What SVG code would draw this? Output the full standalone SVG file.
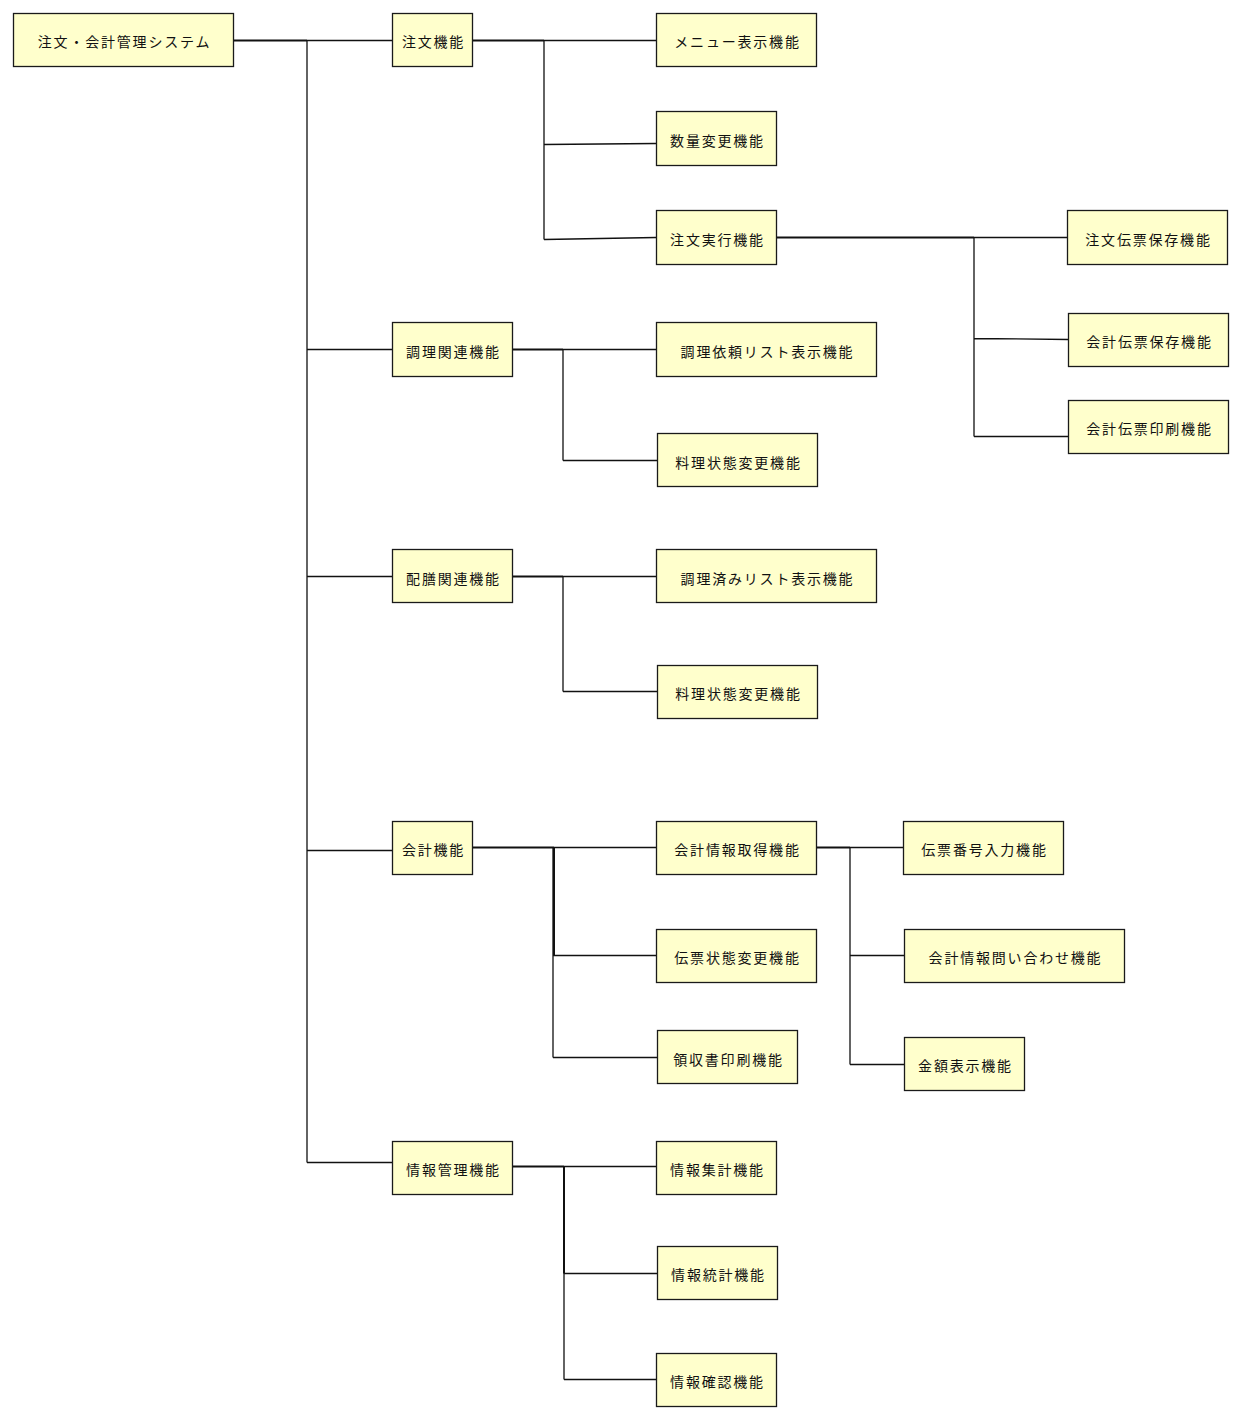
<svg xmlns="http://www.w3.org/2000/svg" width="1242" height="1420" viewBox="0 0 1242 1420">
  <style>
    .box { fill: #ffffcc; stroke: #1a1a1a; stroke-width: 1.3; }
    .lbl { font-family: "Noto Sans CJK JP", "Noto Sans", sans-serif; font-size: 14px; letter-spacing: 1.8px; fill: #111; text-anchor: middle; dominant-baseline: central; }
    .wire { fill: none; stroke: #111; stroke-width: 1.3; }
    .wire2 { fill: none; stroke: #111; stroke-width: 2; }
  </style>
  <rect width="1242" height="1420" fill="#ffffff"/>

  <!-- connectors -->
  <g id="connectors">
    <!-- root to level 1 -->
    <path class="wire2" d="M233 40.5 H307"/>
    <path class="wire" d="M307 40.5 V1162.5 M307 40.5 H392 M307 349.5 H392 M307 576.5 H392 M307 850.5 H392 M307 1162.5 H392"/>
    <!-- 注文機能 -->
    <path class="wire2" d="M472 40.5 H544"/>
    <path class="wire" d="M544 40.5 V239.5 M544 40.5 H656 M544 144.5 L656 143.5 M544 239.5 L656 237.5"/>
    <!-- 注文実行機能 -->
    <path class="wire2" d="M776 237.5 H974"/>
    <path class="wire" d="M974 237.5 V436.5 M974 237.5 H1067 M974 338.5 L1068 339.5 M974 436.5 H1068"/>
    <!-- 調理関連機能 -->
    <path class="wire2" d="M512 349.5 H563"/>
    <path class="wire" d="M563 349.5 V460.5 M563 349.5 H656 M563 460.5 H657"/>
    <!-- 配膳関連機能 -->
    <path class="wire2" d="M512 576.5 H563"/>
    <path class="wire" d="M563 576.5 V691.5 M563 576.5 H656 M563 691.5 H657"/>
    <!-- 会計機能 -->
    <path class="wire2" d="M472 847.5 H554 M554 847.5 V955.5"/>
    <path class="wire" d="M553 847.5 V1057.5 M554 847.5 H656 M553 955.5 H656 M553 1057.5 H657"/>
    <!-- 会計情報取得機能 -->
    <path class="wire2" d="M816 847.5 H850"/>
    <path class="wire" d="M850 847.5 V1064.5 M850 847.5 H903 M850 955.5 H904 M850 1064.5 H904"/>
    <!-- 情報管理機能 -->
    <path class="wire2" d="M512 1166.5 H564 M564 1166.5 V1273.5"/>
    <path class="wire" d="M564 1166.5 V1379.5 M564 1166.5 H656 M564 1273.5 H657 M564 1379.5 H656"/>
  </g>

  <!-- nodes -->
  <g id="root"><rect class="box" x="13.5" y="13.5" width="220" height="53"/><text class="lbl" x="124.5" y="41">注文・会計管理システム</text></g>

  <g id="order"><rect class="box" x="392.5" y="13.5" width="80" height="53"/><text class="lbl" x="433.5" y="41">注文機能</text></g>
  <g id="menu-view"><rect class="box" x="656.5" y="13.5" width="160" height="53"/><text class="lbl" x="737.5" y="41">メニュー表示機能</text></g>
  <g id="qty-change"><rect class="box" x="656.5" y="111.5" width="120" height="54"/><text class="lbl" x="717.5" y="140">数量変更機能</text></g>
  <g id="order-exec"><rect class="box" x="656.5" y="210.5" width="120" height="54"/><text class="lbl" x="717.5" y="239">注文実行機能</text></g>
  <g id="order-slip-save"><rect class="box" x="1067.5" y="210.5" width="160" height="54"/><text class="lbl" x="1148.5" y="239">注文伝票保存機能</text></g>
  <g id="bill-slip-save"><rect class="box" x="1068.5" y="313.5" width="160" height="53"/><text class="lbl" x="1149.5" y="341">会計伝票保存機能</text></g>
  <g id="bill-slip-print"><rect class="box" x="1068.5" y="400.5" width="160" height="53"/><text class="lbl" x="1149.5" y="428">会計伝票印刷機能</text></g>

  <g id="cooking"><rect class="box" x="392.5" y="322.5" width="120" height="54"/><text class="lbl" x="453.5" y="351">調理関連機能</text></g>
  <g id="cook-request-list"><rect class="box" x="656.5" y="322.5" width="220" height="54"/><text class="lbl" x="767.5" y="351">調理依頼リスト表示機能</text></g>
  <g id="dish-state-1"><rect class="box" x="657.5" y="433.5" width="160" height="53"/><text class="lbl" x="738.5" y="462">料理状態変更機能</text></g>

  <g id="serving"><rect class="box" x="392.5" y="549.5" width="120" height="53"/><text class="lbl" x="453.5" y="578">配膳関連機能</text></g>
  <g id="cooked-list"><rect class="box" x="656.5" y="549.5" width="220" height="53"/><text class="lbl" x="767.5" y="578">調理済みリスト表示機能</text></g>
  <g id="dish-state-2"><rect class="box" x="657.5" y="665.5" width="160" height="53"/><text class="lbl" x="738.5" y="693">料理状態変更機能</text></g>

  <g id="billing"><rect class="box" x="392.5" y="821.5" width="80" height="53"/><text class="lbl" x="433.5" y="849">会計機能</text></g>
  <g id="bill-info-get"><rect class="box" x="656.5" y="821.5" width="160" height="53"/><text class="lbl" x="737.5" y="849">会計情報取得機能</text></g>
  <g id="slip-no-input"><rect class="box" x="903.5" y="821.5" width="160" height="53"/><text class="lbl" x="984.5" y="849">伝票番号入力機能</text></g>
  <g id="slip-state"><rect class="box" x="656.5" y="929.5" width="160" height="53"/><text class="lbl" x="737.5" y="957">伝票状態変更機能</text></g>
  <g id="bill-info-query"><rect class="box" x="904.5" y="929.5" width="220" height="53"/><text class="lbl" x="1015.5" y="957">会計情報問い合わせ機能</text></g>
  <g id="receipt-print"><rect class="box" x="657.5" y="1030.5" width="140" height="53"/><text class="lbl" x="728.5" y="1059">領収書印刷機能</text></g>
  <g id="amount-view"><rect class="box" x="904.5" y="1037.5" width="120" height="53"/><text class="lbl" x="965.5" y="1065">金額表示機能</text></g>

  <g id="info-mgmt"><rect class="box" x="392.5" y="1141.5" width="120" height="53"/><text class="lbl" x="453.5" y="1169">情報管理機能</text></g>
  <g id="info-sum"><rect class="box" x="656.5" y="1141.5" width="120" height="53"/><text class="lbl" x="717.5" y="1169">情報集計機能</text></g>
  <g id="info-stats"><rect class="box" x="657.5" y="1246.5" width="120" height="53"/><text class="lbl" x="718.5" y="1274">情報統計機能</text></g>
  <g id="info-check"><rect class="box" x="656.5" y="1353.5" width="120" height="53"/><text class="lbl" x="717.5" y="1381">情報確認機能</text></g>
</svg>
